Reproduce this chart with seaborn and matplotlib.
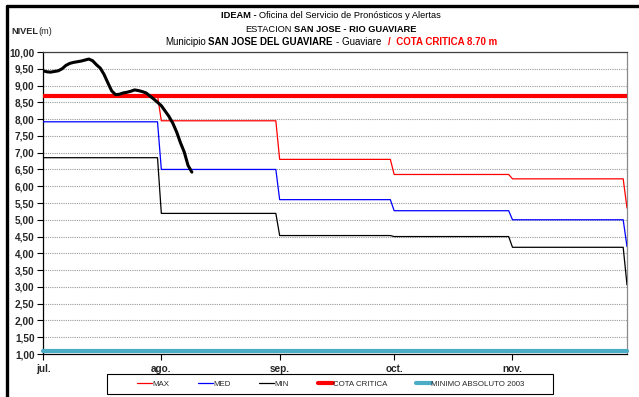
import matplotlib
matplotlib.use("Agg")
import pandas as pd
import matplotlib.pyplot as plt
from matplotlib.lines import Line2D
from matplotlib.patches import Rectangle
from matplotlib.ticker import FuncFormatter, MultipleLocator
from matplotlib import font_manager as fm
import seaborn as sns

# Monthly reference levels (m): Jul, Aug, Sep, Oct, Nov, Dec
month_starts = ["2009-07-01", "2009-08-01", "2009-09-01", "2009-10-01", "2009-11-01", "2009-12-01"]
month_labels = ["jul.", "ago.", "sep.", "oct.", "nov."]
nivel_max = [8.70, 7.95, 6.80, 6.35, 6.22, 5.35]
nivel_med = [7.92, 6.50, 5.60, 5.27, 5.00, 4.20]
nivel_min = [6.85, 5.19, 4.53, 4.50, 4.18, 3.06]

cota_critica = 8.70
minimo_absoluto_2003 = 1.08

# Observed daily level since July 1st
obs_start = "2009-07-01"
nivel_obs = [9.44, 9.41, 9.40, 9.42, 9.44, 9.50, 9.60, 9.66, 9.69, 9.71,
             9.73, 9.76, 9.79, 9.74, 9.62, 9.52, 9.33, 9.08, 8.84, 8.73,
             8.74, 8.78, 8.80, 8.83, 8.87, 8.85, 8.82, 8.78, 8.69, 8.60,
             8.50, 8.40, 8.24, 8.08, 7.88, 7.62, 7.30, 7.02, 6.62, 6.42]

W, H = 639, 397
sns.set_style("white")
available = {f.name for f in fm.fontManager.ttflist}
NARROW = "Liberation Sans Narrow" in available
BASE = "Liberation Sans"
TFONT = "Liberation Sans Narrow" if NARROW else BASE
plt.rcParams["font.family"] = [BASE, "DejaVu Sans"]

# Step series: each month's value held from its first to its last day
starts = pd.to_datetime(month_starts)
rows = []
for name, vals in (("MAX", nivel_max), ("MED", nivel_med), ("MIN", nivel_min)):
    for i in range(len(starts) - 1):
        rows.append((starts[i], vals[i], name))
        rows.append((starts[i + 1] - pd.Timedelta(days=1), vals[i], name))
    rows.append((starts[-1], vals[-1], name))
df_ref = pd.DataFrame(rows, columns=["fecha", "nivel", "serie"])

df_obs = pd.DataFrame({
    "fecha": pd.date_range(obs_start, periods=len(nivel_obs), freq="D"),
    "nivel": nivel_obs,
})

fig = plt.figure(figsize=(W / 100, H / 100), dpi=100)
ax = fig.add_axes([43 / W, 1 - 354 / H, (627 - 43) / W, (354 - 52) / H])

palette = {"MAX": "#ff0000", "MED": "#0000ff", "MIN": "#000000"}
sns.lineplot(data=df_ref, x="fecha", y="nivel", hue="serie", palette=palette,
             estimator=None, sort=False, linewidth=0.9, legend=False, ax=ax, zorder=3)
ax.axhline(cota_critica, color="#ff0000", linewidth=3.0, zorder=4)
ax.axhline(minimo_absoluto_2003, color="#4bacc6", linewidth=3.0, zorder=4, clip_on=False)
sns.lineplot(data=df_obs, x="fecha", y="nivel", color="black", linewidth=2.2,
             estimator=None, ax=ax, zorder=5)

ax.set_xlim(starts[0], starts[-1])
ax.set_ylim(1, 10)
ax.yaxis.set_major_locator(MultipleLocator(0.5))
ax.yaxis.set_major_formatter(FuncFormatter(lambda v, p: f"{v:.2f}".replace(".", ",")))
ax.set_xticks(starts[:-1])
ax.set_xticklabels(month_labels)
ax.set_xlabel("")
ax.set_ylabel("")
ax.grid(axis="y", color="#9a9a9a", linestyle=(0, (1, 1)), linewidth=0.8, zorder=1)
ax.grid(axis="x", visible=False)

for lbl in ax.get_yticklabels() + ax.get_xticklabels():
    lbl.set_fontweight("bold")
    lbl.set_fontsize(7.2)
ax.tick_params(axis="y", direction="out", length=4, width=0.8, pad=2, left=True, color="black")
ax.tick_params(axis="x", direction="out", length=4, width=0.8, pad=3, bottom=True, color="black")

ax.spines["left"].set_color("black")
ax.spines["bottom"].set_color("black")
ax.spines["top"].set_color("#404040")
ax.spines["right"].set_color("#8a8a8a")
for s in ax.spines.values():
    s.set_linewidth(0.9)

# Outer frame of the figure (top and left edges)
fig.add_artist(Line2D([7 / W, 1], [1 - 6 / H, 1 - 6 / H], color="black", linewidth=2.4, transform=fig.transFigure))
fig.add_artist(Line2D([7 / W, 7 / W], [0, 1 - 6 / H], color="black", linewidth=2.4, transform=fig.transFigure))

# Title lines with mixed weights and colours
tsize = 7.6 if NARROW else 6.7
renderer = fig.canvas.get_renderer()


def rich_line(parts, y_px, cx_px):
    texts, widths, gaps = [], [], []
    for s, weight, color, gap, size in parts:
        t = fig.text(0, 1 - y_px / H, s, fontsize=size, fontweight=weight, color=color,
                     family=[TFONT, "DejaVu Sans"], ha="left", va="center")
        texts.append(t)
        widths.append(t.get_window_extent(renderer).width)
        gaps.append(gap * 0.278 * size * 100 / 72)
    total = sum(widths) + sum(gaps[1:])
    x = cx_px - total / 2
    for i, (t, w) in enumerate(zip(texts, widths)):
        if i > 0:
            x += gaps[i]
        t.set_x(x / W)
        x += w


s3 = tsize * 1.05
rich_line([("IDEAM -", "bold", "black", 0, tsize),
           ("Oficina del Servicio de Pronósticos y Alertas", "normal", "black", 1, tsize)], 16, 331)
rich_line([("ESTACION", "normal", "black", 0, tsize),
           ("SAN JOSE - RIO GUAVIARE", "bold", "black", 1, tsize)], 29, 331)
rich_line([("Municipio", "normal", "black", 0, s3),
           ("SAN JOSE DEL GUAVIARE", "bold", "black", 1, s3),
           ("- Guaviare", "normal", "black", 1, s3),
           ("/  COTA CRITICA 8.70 m", "bold", "#ff0000", 2.5, s3)], 42, 331)

fig.text(11 / W, 1 - 31 / H, "NIVEL", fontsize=6.6, fontweight="bold", ha="left", va="center",
         family=[TFONT, "DejaVu Sans"])
fig.text(38 / W, 1 - 31 / H, "(m)", fontsize=6.6, ha="left", va="center",
         family=[TFONT, "DejaVu Sans"])

# Legend
handles = [Line2D([], [], color="#ff0000", linewidth=0.9),
           Line2D([], [], color="#0000ff", linewidth=0.9),
           Line2D([], [], color="black", linewidth=0.9),
           Line2D([], [], color="#ff0000", linewidth=3.0),
           Line2D([], [], color="#4bacc6", linewidth=3.0)]
labels = ["MAX", "MED", "MIN", "COTA CRITICA", "MINIMO ABSOLUTO 2003"]
fig.legend(handles, labels, loc="center", bbox_to_anchor=(331 / W, 1 - 384 / H), ncol=5,
           frameon=False, prop={"family": [TFONT, "DejaVu Sans"], "size": 6.2 if NARROW else 5.7},
           handlelength=1.9, handletextpad=0.05, columnspacing=3.6)
fig.add_artist(Rectangle((107 / W, 1 - 394 / H), 446 / W, 20 / H, transform=fig.transFigure,
                         fill=False, edgecolor="black", linewidth=0.8))

fig.savefig("out.png", dpi=100)
